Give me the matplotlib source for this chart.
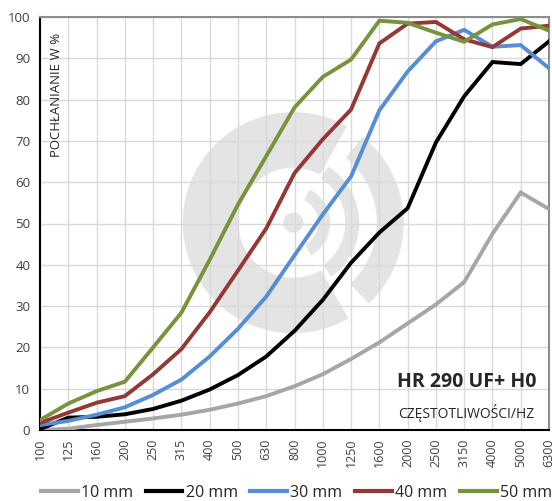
import matplotlib
matplotlib.use("Agg")
import matplotlib.pyplot as plt
from matplotlib.patches import Wedge, Circle
from matplotlib.transforms import IdentityTransform
import numpy as np

plt.rcParams['font.family'] = ['Open Sans', 'DejaVu Sans']

freqs = ["100", "125", "160", "200", "250", "315", "400", "500", "630", "800",
         "1000", "1250", "1600", "2000", "2500", "3150", "4000", "5000", "6300"]

s10 = [0.0, 0.3, 1.2, 2.0, 2.8, 3.7, 4.9, 6.4, 8.2, 10.6, 13.5, 17.2, 21.2, 25.8, 30.4, 35.8, 47.5, 57.5, 53.5]
s20 = [0.2, 3.0, 3.2, 3.8, 5.1, 7.1, 9.8, 13.3, 17.8, 24.0, 31.5, 40.5, 47.8, 53.7, 69.6, 80.8, 89.1, 88.6, 94.1]
s30 = [1.2, 2.2, 3.7, 5.5, 8.5, 12.2, 17.8, 24.5, 32.3, 42.3, 52.2, 61.4, 77.4, 86.8, 94.1, 96.9, 92.8, 93.2, 87.6]
s40 = [1.7, 4.2, 6.6, 8.2, 13.5, 19.6, 28.5, 38.6, 48.8, 62.2, 70.4, 77.6, 93.6, 98.4, 98.8, 94.6, 92.7, 97.2, 97.9]
s50 = [2.4, 6.4, 9.4, 11.7, 20.0, 28.4, 41.2, 54.6, 66.3, 78.1, 85.5, 89.7, 99.1, 98.6, 96.2, 94.0, 98.2, 99.5, 96.7]

series_labels = ["10 mm", "20 mm", "30 mm", "40 mm", "50 mm"]
series_colors = ["#a6a6a6", "#000000", "#558ed5", "#953735", "#77933c"]

W, H = 552, 501
fig = plt.figure(figsize=(W / 100, H / 100), dpi=100)
ax = fig.add_axes([40 / W, 1 - 430 / H, (549 - 40) / W, (430 - 17) / H])

x = np.arange(len(freqs))
for vals, lab, col in zip([s10, s20, s30, s40, s50], series_labels, series_colors):
    ax.plot(x, vals, color=col, lw=2.8, label=lab, zorder=3, solid_joinstyle='miter')

ax.set_xlim(0, len(freqs) - 1)
ax.set_ylim(0, 100)
ax.set_xticks(x)
ax.set_xticklabels(freqs, rotation=90, fontsize=9, color='#404040')
ax.set_yticks(np.arange(0, 101, 10))
ax.tick_params(axis='y', labelsize=9.5, labelcolor='#404040', length=0, pad=7)
ax.tick_params(axis='x', length=0, pad=6)
ax.set_axisbelow(True)
ax.grid(True, color='#d9d9d9', lw=1.0, zorder=0.5)
for side in ['left', 'bottom']:
    ax.spines[side].set_color('black')
    ax.spines[side].set_linewidth(1.5)
for side in ['top', 'right']:
    ax.spines[side].set_color('#8c8c8c')
    ax.spines[side].set_linewidth(1.5)

# watermark logo (pixel coordinates), drawn beneath grid and lines
cx, cy = 293.3, H - 222.7
wm = '#e4e4e4'
T = IdentityTransform()
shapes = [
    Wedge((cx, cy), 110.5, 61, 300, width=55.5),
    Wedge((cx, cy), 110.5, -47, 51, width=27),
    Wedge((cx, cy), 66, -55, 58, width=14),
    Wedge((cx, cy), 37, -62, 64, width=12),
    Circle((cx, cy), 10),
]
for s in shapes:
    s.set_transform(T)
    s.set_facecolor(wm)
    s.set_edgecolor('none')
    s.set_zorder(0.2)
    s.set_clip_on(False)
    ax.add_artist(s)

ax.text((57 - 40) / 509, 0.962, "POCHŁANIANIE W %", transform=ax.transAxes, rotation=90,
        ha='center', va='top', fontsize=9.5, color='#262626')
ax.text(0.975, 0.116, "HR 290 UF+ H0", transform=ax.transAxes, ha='right', va='center',
        fontsize=14, fontweight='bold', color='#262626')
ax.text(0.971, 0.041, "CZĘSTOTLIWOŚCI/HZ", transform=ax.transAxes, ha='right', va='center',
        fontsize=10, color='#262626')

leg = fig.legend(loc='center', bbox_to_anchor=(296.5 / W, 1 - 493 / H), ncol=5, frameon=False,
                 fontsize=11.5, handlelength=2.3, handletextpad=0.2, columnspacing=0.8,
                 borderaxespad=0, borderpad=0)
for t in leg.get_texts():
    t.set_color('#262626')
for l in leg.get_lines():
    l.set_linewidth(3)

fig.savefig("out.png", dpi=100)
